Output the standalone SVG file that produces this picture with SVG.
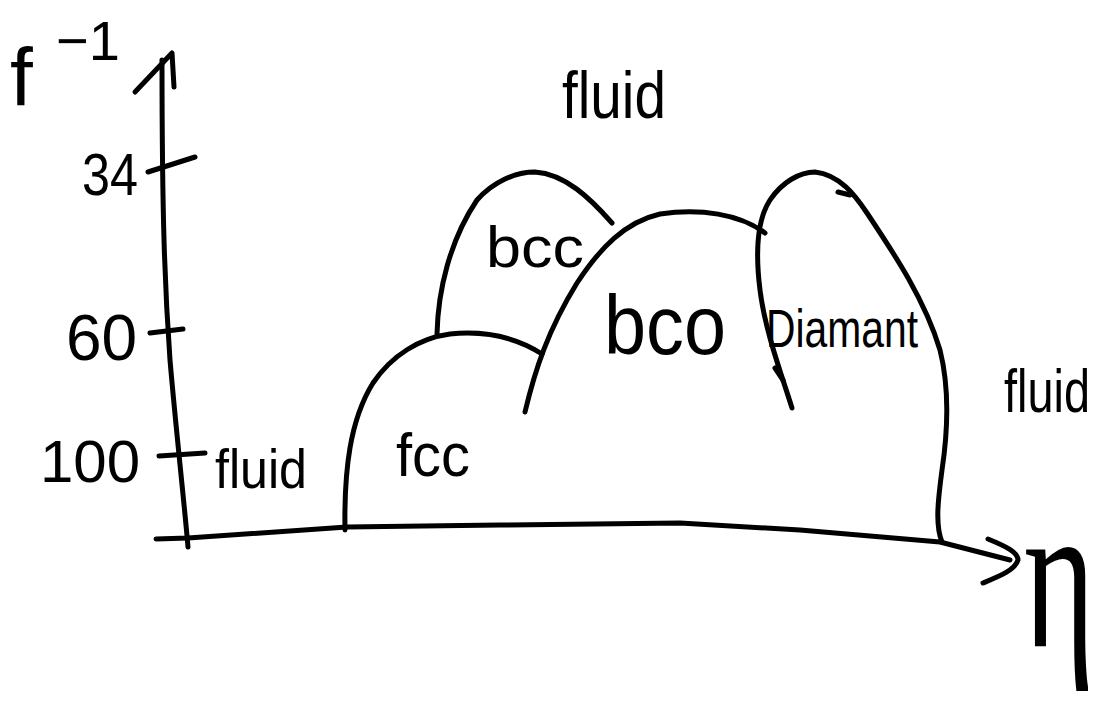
<svg xmlns="http://www.w3.org/2000/svg" width="1107" height="707" viewBox="0 0 1107 707">
  <style>
    .ink { fill: none; stroke: #000; stroke-width: 5; stroke-linecap: round; stroke-linejoin: round; }
    .lbl { font-family: "Liberation Sans", "DejaVu Sans", sans-serif; fill: #000; }
    .greek { font-family: "Liberation Serif", "DejaVu Serif", serif; fill: #000; }
  </style>
  <rect width="1107" height="707" fill="#fff"/>

  <!-- axes -->
  <g id="axes">
    <path class="ink" d="M188,547 C184,500 176,430 170,360 C165,290 162,220 162,60"/>
    <path class="ink" d="M135,92 L172,53 L174,87"/>
    <path class="ink" d="M156,539 L188,538 L347,527 L500,525 L680,523 L800,530 L940,542 L1010,560"/>
    <path class="ink" d="M988,539 C1005,546 1018,552 1018,560 C1015,570 1000,576 983,583"/>
    <path class="ink" d="M148,172 L195,157"/>
    <path class="ink" d="M150,333 L183,329"/>
    <path class="ink" d="M159,456 L205,453"/>
  </g>

  <!-- phase boundaries -->
  <g id="connectors">
    <path id="fcc-boundary" class="ink" d="M345,530 C344,470 350,420 373,383 C392,355 420,338 450,334 C490,330 520,340 542,354"/>
    <path id="bcc-boundary" class="ink" d="M437,334 C438,290 450,240 477,200 C493,182 515,172 535,172 C565,174 590,198 612,223"/>
    <path id="bco-boundary" class="ink" d="M525,412 C535,370 548,330 577,283 C600,248 625,222 660,214 C700,208 740,214 765,233"/>
    <path id="diamant-boundary" class="ink" d="M792,408 C780,370 765,330 760,290 C755,250 757,220 770,200 C782,182 800,172 815,172 C840,175 855,195 867,213 C895,255 925,300 940,350 C950,390 948,430 942,470 C938,500 935,525 942,542"/>
    <path class="ink" d="M838,192 L850,195"/>
    <path class="ink" d="M775,368 L783,380"/>
  </g>

  <!-- labels -->
  <g id="label-axis-y"><text class="lbl" x="10" y="105" font-size="82">f</text><text class="lbl" x="56" y="60" font-size="56">−1</text></g>
  <g id="label-34"><text class="lbl" x="82" y="195" font-size="60" textLength="56" lengthAdjust="spacingAndGlyphs">34</text></g>
  <g id="label-60"><text class="lbl" x="66" y="360" font-size="64">60</text></g>
  <g id="label-100"><text class="lbl" x="40" y="482" font-size="60">100</text></g>
  <g id="label-fluid-left"><text class="lbl" x="215" y="488" font-size="56" textLength="92" lengthAdjust="spacingAndGlyphs">fluid</text></g>
  <g id="label-fluid-top"><text class="lbl" x="562" y="118" font-size="66" textLength="104" lengthAdjust="spacingAndGlyphs">fluid</text></g>
  <g id="label-fluid-right"><text class="lbl" x="1004" y="412" font-size="62" textLength="86" lengthAdjust="spacingAndGlyphs">fluid</text></g>
  <g id="label-fcc"><text class="lbl" x="396" y="476" font-size="62" textLength="74" lengthAdjust="spacingAndGlyphs">fcc</text></g>
  <g id="label-bcc"><text class="lbl" x="486" y="267" font-size="58" textLength="98" lengthAdjust="spacingAndGlyphs">bcc</text></g>
  <g id="label-bco"><text class="lbl" x="604" y="354" font-size="84" textLength="122" lengthAdjust="spacingAndGlyphs">bco</text></g>
  <g id="label-diamant"><text class="lbl" x="766" y="347" font-size="54" textLength="152" lengthAdjust="spacingAndGlyphs">Diamant</text></g>
  <g id="label-axis-x"><text class="greek" transform="translate(1024,646) scale(1,1.55)" x="0" y="0" font-size="136">η</text></g>
</svg>
